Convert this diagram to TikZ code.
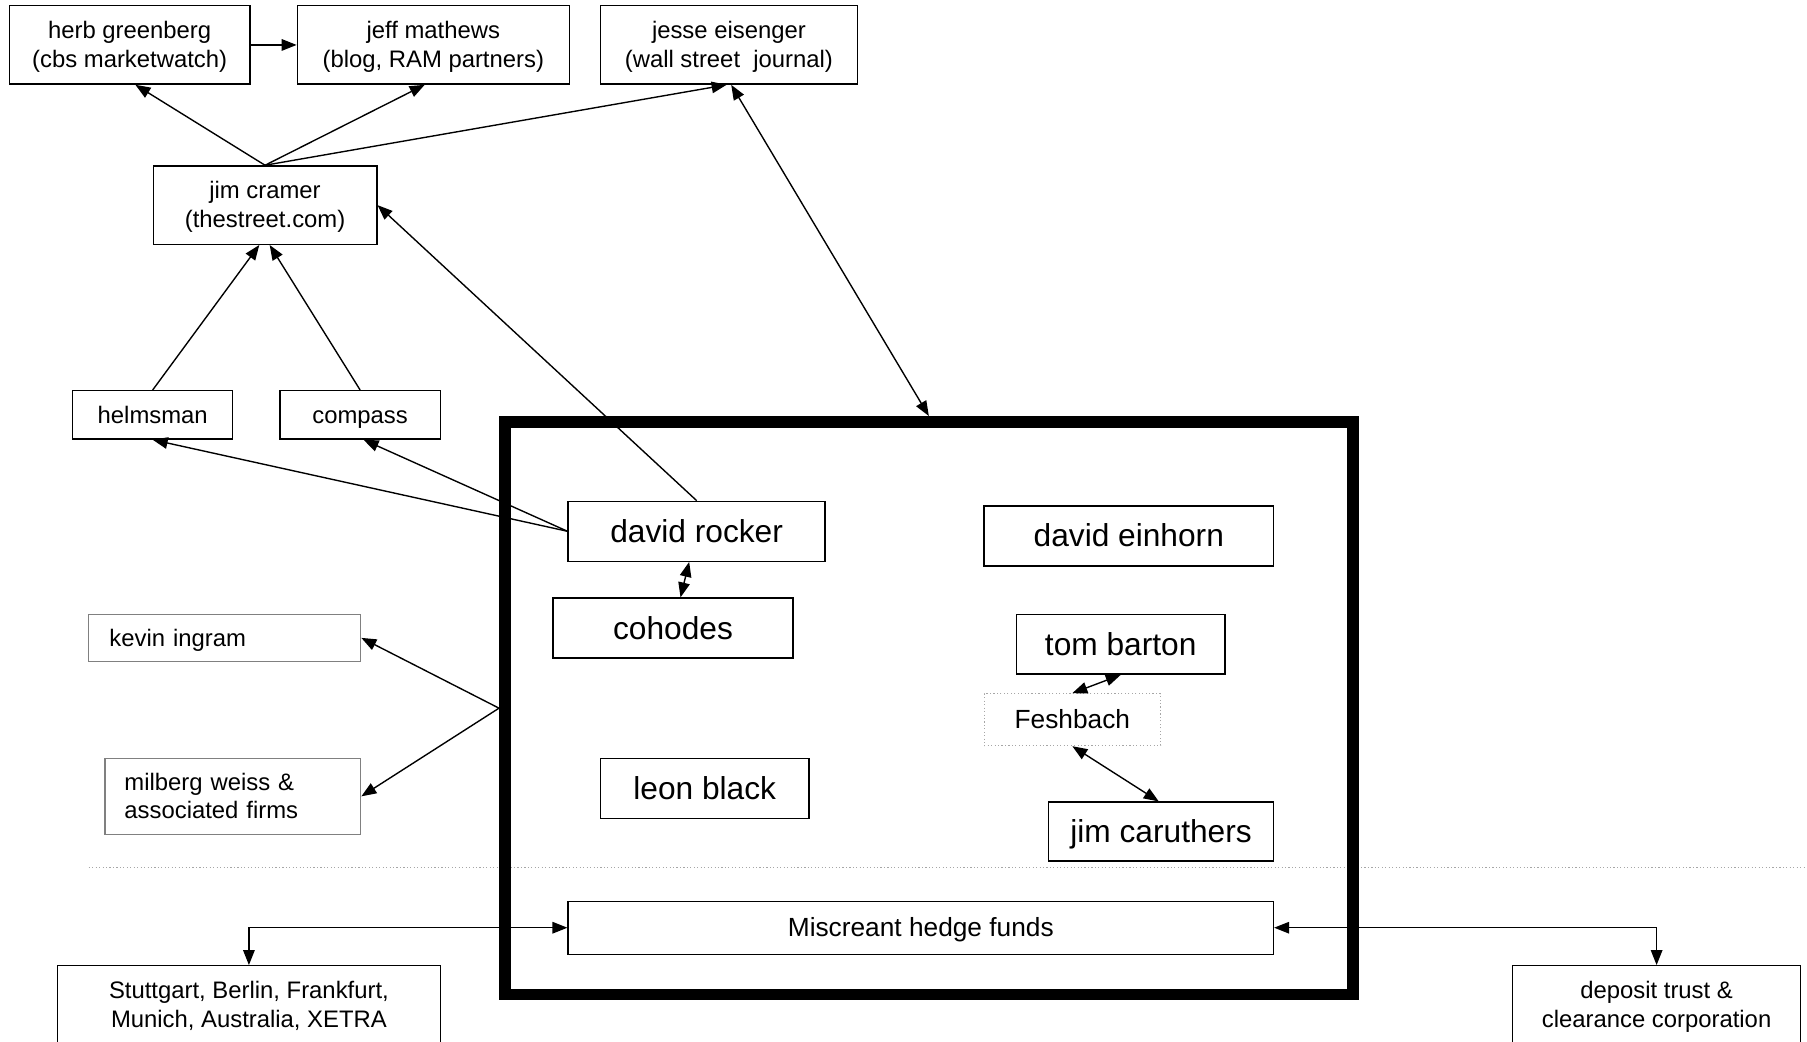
\documentclass[tikz,border=0pt]{standalone}
\usepackage{fontspec}
\setmainfont{Liberation Sans}
\usetikzlibrary{arrows.meta}
\begin{document}
\begin{tikzpicture}[x=1pt,y=-1pt,
    >={Triangle[length=13pt,width=10pt]},
    every node/.style={font=\fontsize{20.7}{25}\selectfont, inner sep=0pt, align=center,
      text height=18.7pt, text depth=4.4pt},
    two/.style={text height=43.7pt},
    twoleft/.style={text depth=29.4pt},
    box/.style={draw, line width=1.2pt},
    greybox/.style={draw=gray, line width=1.1pt, align=left},
    big/.style={font=\fontsize{27.5}{32}\selectfont, text height=24.9pt, text depth=5.8pt},
    mid/.style={font=\fontsize{22.8}{27}\selectfont, text height=20.6pt, text depth=4.8pt},
    link/.style={line width=1.2pt}]
  \useasboundingbox (0,0) rectangle (1568,904);
  % dotted separator
  \draw[gray!70, dotted, line width=1pt] (77,753) -- (1568,753);
  \node at (806,614.5) [draw, line width=10pt, minimum width=736pt, minimum height=497pt] (frame) {};
  \node at (112.5,39) [box, two, minimum width=209pt, minimum height=68pt] (herb) {herb greenberg\\(cbs marketwatch)};
  \node at (376,39) [box, two, minimum width=236pt, minimum height=68pt] (jeff) {jeff mathews\\(blog, RAM partners)};
  \node at (632.5,39) [box, two, minimum width=223pt, minimum height=68pt] (jesse) {jesse eisenger\\(wall street\ \ journal)};
  \node at (230,178) [box, two, minimum width=194pt, minimum height=68pt] (cramer) {jim cramer\\(thestreet.com)};
  \node at (132.5,360) [box, minimum width=139pt, minimum height=42pt] (helms) {helmsman};
  \node at (312.5,360) [box, minimum width=139pt, minimum height=42pt] (compass) {compass};
  \node at (195,553.5) [greybox, minimum width=236pt, minimum height=41pt, text width=200pt, inner xsep=18pt] (kevin) {kevin ingram};
  \node at (202,691) [greybox, twoleft, minimum width=222pt, minimum height=66pt, text width=188pt, inner xsep=17pt] (milberg) {milberg weiss \&\\associated firms};
  \node at (604.5,461) [box, big, minimum width=223pt, minimum height=52pt] (rocker) {david rocker};
  \node at (979.5,465) [box, big, minimum width=251pt, minimum height=52pt] (einhorn) {david einhorn};
  \node at (584,545) [box, big, minimum width=208pt, minimum height=52pt] (cohodes) {cohodes};
  \node at (972.5,559) [box, big, minimum width=181pt, minimum height=52pt] (barton) {tom barton};
  \node at (930.5,624.5) [draw=gray!70, dotted, line width=1pt, mid, minimum width=153pt, minimum height=45pt] (feshbach) {Feshbach};
  \node at (611.5,684) [box, big, minimum width=181pt, minimum height=52pt] (leon) {leon black};
  \node at (1007.5,721.5) [box, big, minimum width=195pt, minimum height=51pt] (caruthers) {jim caruthers};
  \node at (799,805) [box, mid, minimum width=612pt, minimum height=46pt] (misc) {Miscreant hedge funds};
  \node at (216,872) [box, two, minimum width=332pt, minimum height=68pt] (exch) {Stuttgart, Berlin, Frankfurt,\\Munich, Australia, XETRA};
  \node at (1437.5,872) [box, two, minimum width=250pt, minimum height=68pt] (dtcc) {deposit trust \&\\clearance corporation};
  % connectors
  \draw[link,->] (herb) -- (jeff);
  \draw[link,->] (cramer.north) -- ([xshift=5pt]herb.south);
  \draw[link,->] (cramer.north) -- ([xshift=-7.5pt]jeff.south);
  \draw[link,->] (cramer.north) -- ([xshift=-2pt]jesse.south);
  \draw[link,<->] ([xshift=2pt]jesse.south) -- (frame.north);
  \draw[link,->] (helms.north) -- ([xshift=-5pt]cramer.south);
  \draw[link,->] (compass.north) -- ([xshift=4pt]cramer.south);
  \draw[link,->] (rocker.north) -- (cramer.east);
  \draw[link,->] (rocker.west) -- (helms.south);
  \draw[link,->] (rocker.west) -- ([xshift=3pt]compass.south);
  \draw[link,<->] (rocker) -- (cohodes);
  \draw[link,<->] (barton.south) -- (feshbach.north);
  \draw[link,<->] (feshbach.south) -- ([xshift=-2pt]caruthers.north);
  \draw[link,->] (frame.west) -- (kevin.east);
  \draw[link,->] (frame.west) -- (milberg.east);
  \draw[link,<->] (exch) |- (misc);
  \draw[link,<->] (misc) -| (dtcc);
\end{tikzpicture}
\end{document}
